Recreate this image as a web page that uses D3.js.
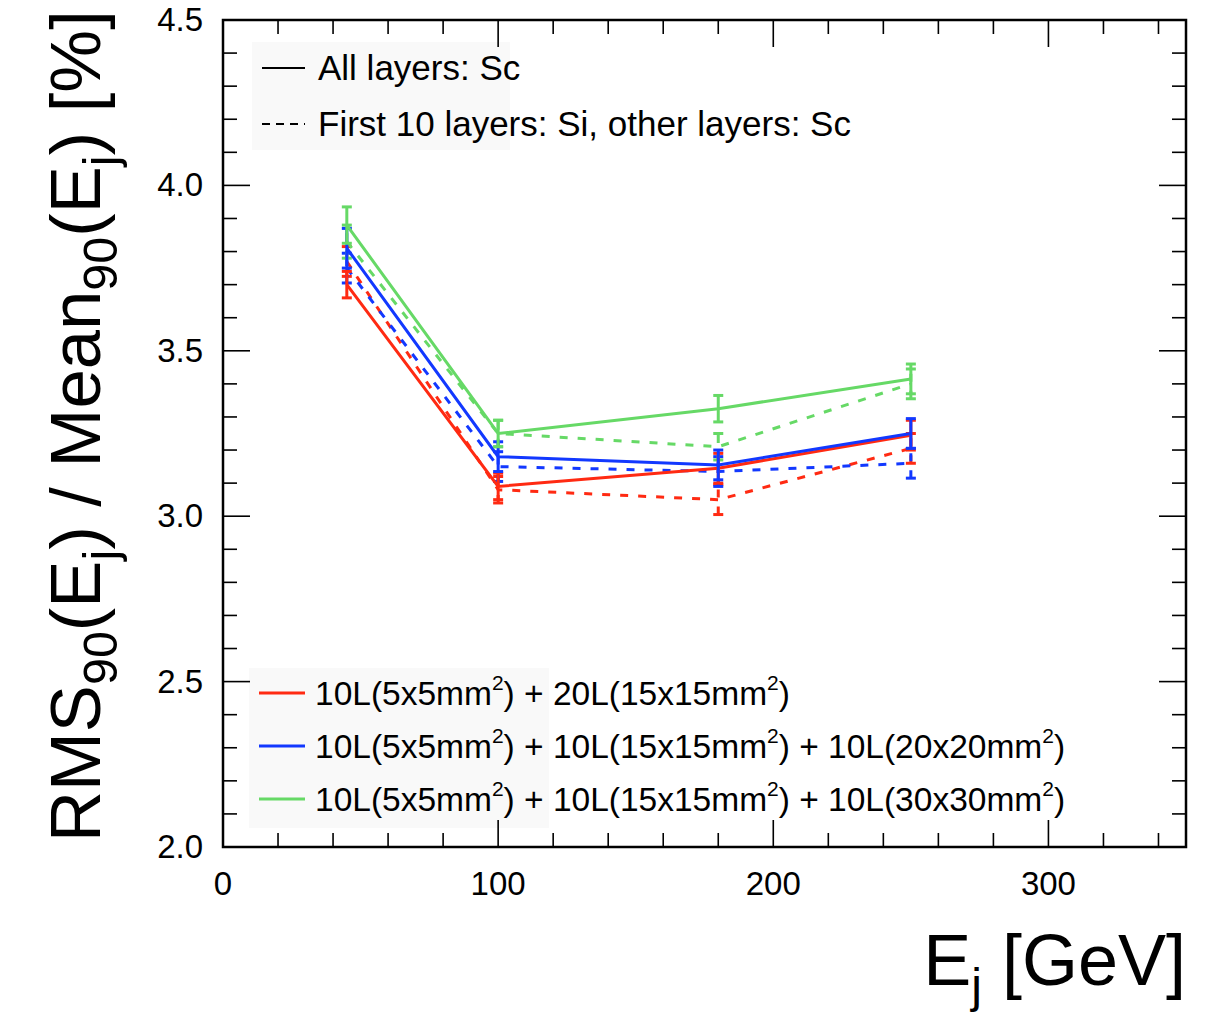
<!DOCTYPE html>
<html>
<head>
<meta charset="utf-8">
<script src="https://cdn.jsdelivr.net/npm/d3@7"></script>
<style>
  html, body { margin: 0; padding: 0; background: #fff; }
  svg { display: block; font-family: "Liberation Sans", Arial, Helvetica, sans-serif; }
</style>
</head>
<body>
<svg id="chart" width="1212" height="1012"></svg>
<script>
// ---------------- data ----------------
const energies = [45, 100, 180, 250];

const redSolid    = [3.70, 3.09, 3.145, 3.245];
const redSolidErr = [0.04, 0.04, 0.045, 0.045];
const blueSolid    = [3.81, 3.18, 3.155, 3.25];
const blueSolidErr = [0.06, 0.045, 0.045, 0.045];
const greenSolid    = [3.88, 3.25, 3.325, 3.415];
const greenSolidErr = [0.055, 0.04, 0.04, 0.045];

const redDashed    = [3.77, 3.08, 3.05, 3.205];
const redDashedErr = [0.045, 0.04, 0.045, 0.045];
const blueDashed    = [3.75, 3.15, 3.135, 3.16];
const blueDashedErr = [0.045, 0.045, 0.045, 0.045];
const greenDashed    = [3.83, 3.25, 3.21, 3.40];
const greenDashedErr = [0.05, 0.04, 0.04, 0.045];

const seriesColors = ["#ff2a12", "#1238ff", "#66d966"];
const xTickLabels = ["0", "100", "200", "300"];
const yTickLabels = ["2.0", "2.5", "3.0", "3.5", "4.0", "4.5"];
const styleLegendLabels = ["All layers: Sc", "First 10 layers: Si, other layers: Sc"];
// legend label pieces: [text, isSuperscript]
const configLegendLabels = [
  [["10L(5x5mm",0],["2",1],[") + 20L(15x15mm",0],["2",1],[")",0]],
  [["10L(5x5mm",0],["2",1],[") + 10L(15x15mm",0],["2",1],[") + 10L(20x20mm",0],["2",1],[")",0]],
  [["10L(5x5mm",0],["2",1],[") + 10L(15x15mm",0],["2",1],[") + 10L(30x30mm",0],["2",1],[")",0]]
];

// ---------------- layout ----------------
const svg = d3.select("#chart");
const L = 223, R = 1186, T = 20, B = 847;
const x = d3.scaleLinear().domain([0, 350]).range([L, R]);
const y = d3.scaleLinear().domain([2.0, 4.5]).range([B, T]);

// legend boxes (faint background)
svg.append("rect").attr("x", 252).attr("y", 42).attr("width", 258).attr("height", 108)
  .attr("fill", "#f9f9f9");
svg.append("rect").attr("x", 249).attr("y", 668).attr("width", 300).attr("height", 160)
  .attr("fill", "#f9f9f9");

// ticks (ROOT style, inside the frame on all four sides)
const majLen = 27, minLen = 14;
const xMinor = d3.range(0, 351, 20).filter(v => v % 100 !== 0);
const xMajor = [0, 100, 200, 300];
const yMinor = d3.range(2.0, 4.5001, 0.1).filter(v => Math.abs(v*2 - Math.round(v*2)) > 1e-6);
const yMajor = [2.0, 2.5, 3.0, 3.5, 4.0, 4.5];
const tk = svg.append("g").attr("stroke", "#000").attr("stroke-width", 1.6);
xMajor.forEach(v => {
  tk.append("line").attr("x1", x(v)).attr("x2", x(v)).attr("y1", B).attr("y2", B - majLen);
  tk.append("line").attr("x1", x(v)).attr("x2", x(v)).attr("y1", T).attr("y2", T + majLen);
});
xMinor.forEach(v => {
  tk.append("line").attr("x1", x(v)).attr("x2", x(v)).attr("y1", B).attr("y2", B - minLen);
  tk.append("line").attr("x1", x(v)).attr("x2", x(v)).attr("y1", T).attr("y2", T + minLen);
});
yMajor.forEach(v => {
  tk.append("line").attr("x1", L).attr("x2", L + majLen).attr("y1", y(v)).attr("y2", y(v));
  tk.append("line").attr("x1", R).attr("x2", R - majLen).attr("y1", y(v)).attr("y2", y(v));
});
yMinor.forEach(v => {
  tk.append("line").attr("x1", L).attr("x2", L + minLen).attr("y1", y(v)).attr("y2", y(v));
  tk.append("line").attr("x1", R).attr("x2", R - minLen).attr("y1", y(v)).attr("y2", y(v));
});

// frame
svg.append("rect").attr("x", L).attr("y", T).attr("width", R - L).attr("height", B - T)
  .attr("fill", "none").attr("stroke", "#000").attr("stroke-width", 2.5);

// tick labels
svg.append("g").selectAll("text").data(xMajor).join("text")
  .attr("x", d => x(d)).attr("y", 895).attr("text-anchor", "middle")
  .attr("font-size", 33).attr("fill", "#000").text((d, i) => xTickLabels[i]);
svg.append("g").selectAll("text").data(yMajor).join("text")
  .attr("x", 203).attr("y", d => y(d) + 11).attr("text-anchor", "end")
  .attr("font-size", 33).attr("fill", "#000").text((d, i) => yTickLabels[i]);

// x title
const xt = svg.append("text").attr("x", R).attr("y", 985).attr("text-anchor", "end")
  .attr("font-size", 72).attr("fill", "#000");
xt.append("tspan").text("E");
xt.append("tspan").attr("font-size", 48).attr("dy", 17).text("j");
xt.append("tspan").attr("dy", -17).text(" [GeV]");

// y title
const yt = svg.append("text").attr("transform", "translate(100,842) rotate(-90)")
  .attr("text-anchor", "start").attr("font-size", 70).attr("fill", "#000");
const ytParts = [["RMS",0],["90",1],["(E",0],["j",1],[") / Mean",0],["90",1],["(E",0],["j",1],[") [%]",0]];
let ytPrevSub = false;
ytParts.forEach(p => {
  if (p[1]) { yt.append("tspan").attr("font-size", 48).attr("dy", 17).text(p[0]); ytPrevSub = true; }
  else { yt.append("tspan").attr("dy", ytPrevSub ? -17 : 0).text(p[0]); ytPrevSub = false; }
});
// fit title length to the reference span (~832 px)
const ytLen = yt.node().getComputedTextLength();
if (ytLen > 0) {
  const f = 832 / ytLen;
  yt.attr("font-size", 70 * f);
  yt.selectAll("tspan").each(function(d, i) {
    const s = d3.select(this);
    if (s.attr("font-size")) s.attr("font-size", 48 * f);
    if (s.attr("dy")) s.attr("dy", +s.attr("dy") * f);
  });
}

// ---------------- data marks ----------------
const solidSets = [
  [redSolid, redSolidErr], [blueSolid, blueSolidErr], [greenSolid, greenSolidErr]
];
const dashedSets = [
  [redDashed, redDashedErr], [blueDashed, blueDashedErr], [greenDashed, greenDashedErr]
];
const line = d3.line().x(d => x(d[0])).y(d => y(d[1]));
const plot = svg.append("g");

function drawSeries(vals, errs, color, dashed) {
  const pts = energies.map((e, i) => [e, vals[i], errs[i]]);
  const g = plot.append("g");
  const errG = g.append("g").attr("stroke", color).attr("stroke-width", 3)
    .attr("stroke-dasharray", dashed ? "8,9" : null);
  pts.forEach(p => {
    errG.append("line").attr("x1", x(p[0])).attr("x2", x(p[0]))
      .attr("y1", y(p[1] - p[2])).attr("y2", y(p[1] + p[2]));
  });
  const capG = g.append("g").attr("stroke", color).attr("stroke-width", 3);
  pts.forEach(p => {
    [p[1] - p[2], p[1] + p[2]].forEach(v => {
      capG.append("line").attr("x1", x(p[0]) - 5).attr("x2", x(p[0]) + 5)
        .attr("y1", y(v)).attr("y2", y(v));
    });
  });
  g.append("path").datum(pts).attr("d", line).attr("fill", "none")
    .attr("stroke", color).attr("stroke-width", 3)
    .attr("stroke-dasharray", dashed ? "8,10" : null);
}
dashedSets.forEach((s, i) => drawSeries(s[0], s[1], seriesColors[i], true));
solidSets.forEach((s, i) => drawSeries(s[0], s[1], seriesColors[i], false));

// ---------------- legends ----------------
const lg1 = svg.append("g");
[0, 1].forEach(i => {
  const yy = 68 + i * 56;
  lg1.append("line").attr("x1", 262).attr("x2", 305).attr("y1", yy).attr("y2", yy)
    .attr("stroke", "#000").attr("stroke-width", 2.2)
    .attr("stroke-dasharray", i === 1 ? "8,6" : null);
  lg1.append("text").attr("x", 318).attr("y", yy + 12).attr("font-size", 35)
    .attr("fill", "#000").text(styleLegendLabels[i]);
});

const lg2 = svg.append("g");
configLegendLabels.forEach((parts, i) => {
  const yy = 693 + i * 53;
  lg2.append("line").attr("x1", 259).attr("x2", 305).attr("y1", yy).attr("y2", yy)
    .attr("stroke", seriesColors[i]).attr("stroke-width", 3);
  const t = lg2.append("text").attr("x", 315).attr("y", yy + 12).attr("font-size", 33.5).attr("fill", "#000");
  let prevSup = false;
  parts.forEach(p => {
    if (p[1]) { t.append("tspan").attr("font-size", 21).attr("dy", -15).text(p[0]); prevSup = true; }
    else { t.append("tspan").attr("dy", prevSup ? 15 : 0).text(p[0]); prevSup = false; }
  });
});
</script>
</body>
</html>
